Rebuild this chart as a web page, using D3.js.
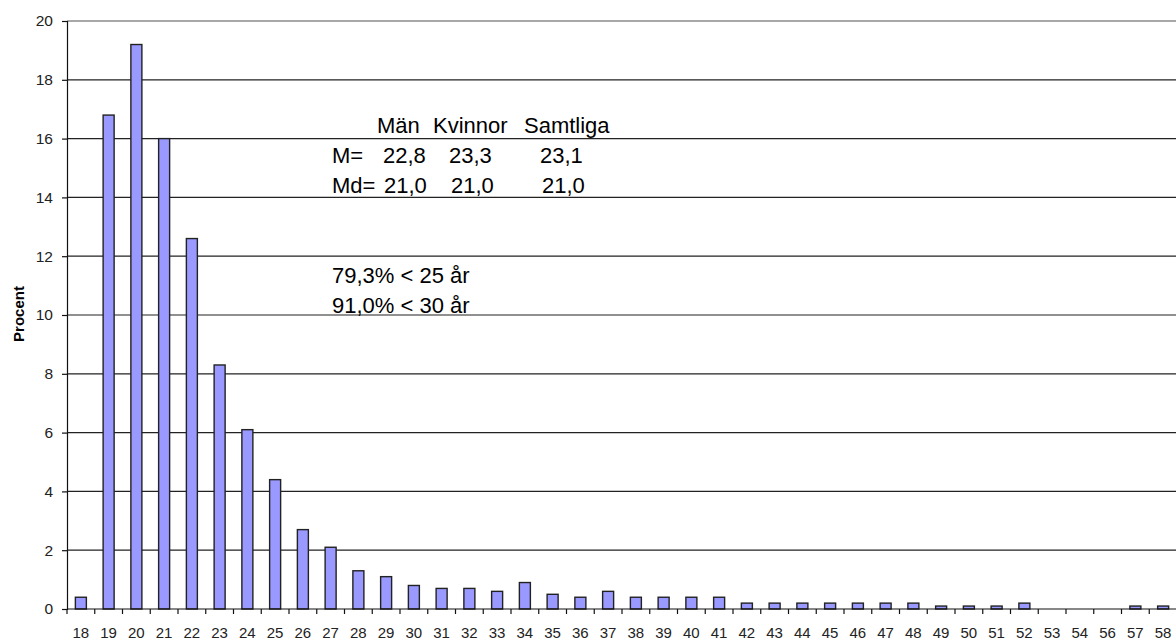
<!DOCTYPE html>
<html>
<head>
<meta charset="utf-8">
<script src="https://cdn.jsdelivr.net/npm/d3@7"></script>
<style>
  body { margin: 0; background: #fff; }
  svg { display: block; font-family: "Liberation Sans", Arial, sans-serif; }
</style>
</head>
<body>
<div id="chart"></div>
<script>
// ages on the x axis (55 is missing in the original)
const ages = ["18","19","20","21","22","23","24","25","26","27","28","29","30","31","32","33","34","35","36","37",
              "38","39","40","41","42","43","44","45","46","47","48","49","50","51","52","53","54","56","57","58"];
// percent per age
const percent = [0.4,16.8,19.2,16.0,12.6,8.3,6.1,4.4,2.7,2.1,1.3,1.1,0.8,0.7,0.7,0.6,0.9,0.5,0.4,0.6,
                 0.4,0.4,0.4,0.4,0.2,0.2,0.2,0.2,0.2,0.2,0.2,0.1,0.1,0.1,0.2,0,0,0,0.1,0.1];
const yTicks = [0,2,4,6,8,10,12,14,16,18,20];

// text block in the plot
const headRow = ["Män","Kvinnor","Samtliga"];
const meanRow = ["M=","22,8","23,3","23,1"];
const medianRow = ["Md=","21,0","21,0","21,0"];
const shareRows = ["79,3% < 25 år","91,0% < 30 år"];

const width = 1176, height = 641;
const margin = { top: 21, left: 67, bottom: 32 };
const plotBottom = height - margin.bottom; // 609
const bandW = 27.75;

const svg = d3.select("#chart").append("svg")
    .attr("width", width)
    .attr("height", height);

const x = d3.scaleBand()
    .domain(ages)
    .range([margin.left, margin.left + ages.length * bandW])
    .padding(0);

const y = d3.scaleLinear()
    .domain([0, 20])
    .range([plotBottom, margin.top]);

// gridlines
svg.append("g")
    .selectAll("line")
    .data(yTicks.filter(d => d > 0))
  .enter().append("line")
    .attr("x1", margin.left)
    .attr("x2", width)
    .attr("y1", d => y(d))
    .attr("y2", d => y(d))
    .attr("stroke", d => d === 20 ? "#a8a8a8" : "#222")
    .attr("stroke-width", d => d === 20 ? 2 : 1.2);

// bars
const barW = 11;
svg.append("g")
    .selectAll("rect")
    .data(percent)
  .enter().append("rect")
    .attr("x", (d, i) => x(ages[i]) + x.bandwidth() / 2 - barW / 2)
    .attr("y", d => y(d))
    .attr("width", barW)
    .attr("height", d => plotBottom - y(d))
    .attr("fill", "#9999ff")
    .attr("stroke", "#222")
    .attr("stroke-width", 1.4)
    .style("display", d => d > 0 ? null : "none");

// y axis
const yAxis = svg.append("g")
    .attr("transform", `translate(${margin.left},0)`)
    .call(d3.axisLeft(y).tickValues(yTicks).tickSize(5).tickPadding(9).tickFormat(d3.format("d")));
yAxis.select(".domain").attr("stroke", "#111").attr("stroke-width", 1.2);
yAxis.selectAll(".tick line").attr("stroke", "#111").attr("stroke-width", 1.2);
yAxis.selectAll("text")
    .attr("font-size", 15.5)
    .attr("fill", "#222")
    .attr("font-family", "Liberation Sans, Arial, sans-serif");

// x axis: ticks on the band edges
const xAxis = svg.append("g")
    .attr("transform", `translate(0,${plotBottom})`);
xAxis.append("line")
    .attr("x1", margin.left).attr("x2", width)
    .attr("stroke", "#111").attr("stroke-width", 1.2);
xAxis.selectAll("line.tk")
    .data(ages)
  .enter().append("line")
    .attr("class", "tk")
    .attr("x1", d => x(d)).attr("x2", d => x(d))
    .attr("y1", 0).attr("y2", 5)
    .attr("stroke", "#111").attr("stroke-width", 1.2);
xAxis.selectAll("text")
    .data(ages)
  .enter().append("text")
    .attr("x", d => x(d) + x.bandwidth() / 2)
    .attr("y", 28.5)
    .attr("text-anchor", "middle")
    .attr("font-size", 15)
    .attr("fill", "#222")
    .text(d => d);

// y label
svg.append("text")
    .attr("transform", "translate(24,314) rotate(-90)")
    .attr("text-anchor", "middle")
    .attr("font-size", 15)
    .attr("font-weight", "bold")
    .text("Procent");

// annotation block
const note = svg.append("g").attr("font-size", 22).attr("fill", "#000");
const headX = [377, 433, 524];
headRow.forEach((t, i) => note.append("text").attr("x", headX[i]).attr("y", 133).text(t));
const valX = [332, 383, 449, 540];
meanRow.forEach((t, i) => note.append("text").attr("x", valX[i]).attr("y", 163).text(t));
const medX = [332, 384, 451, 542];
medianRow.forEach((t, i) => note.append("text").attr("x", medX[i]).attr("y", 193).text(t));
shareRows.forEach((t, i) => note.append("text").attr("x", 332).attr("y", 283 + i * 30).text(t));
</script>
</body>
</html>
